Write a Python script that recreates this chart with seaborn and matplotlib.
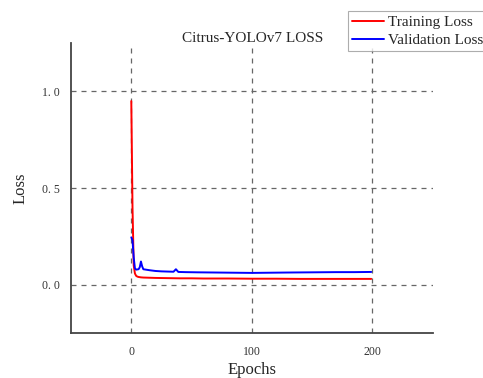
import numpy as np
import pandas as pd
import seaborn as sns
import matplotlib.pyplot as plt
from matplotlib.lines import Line2D

# epochs sampled densely at the start, sparser later
train_epochs = [0, 1, 2, 3, 4, 5, 6, 8, 10, 15, 20, 30, 40, 50, 60, 80, 100,
                120, 140, 160, 180, 199]
train_loss = [0.95, 0.40, 0.10, 0.058, 0.046, 0.042, 0.040, 0.038, 0.037, 0.036,
              0.035, 0.034, 0.033, 0.033, 0.032, 0.032, 0.031, 0.031, 0.030,
              0.030, 0.030, 0.030]

val_epochs = [0, 1, 2, 3, 4, 5, 6, 7, 8, 9, 10, 12, 15, 20, 25, 30, 35, 37, 39,
              45, 55, 70, 85, 100, 115, 130, 150, 170, 185, 199]
val_loss = [0.245, 0.23, 0.14, 0.085, 0.078, 0.079, 0.08, 0.09, 0.12, 0.095,
            0.08, 0.078, 0.075, 0.071, 0.069, 0.068, 0.067, 0.08, 0.066, 0.065,
            0.064, 0.063, 0.062, 0.061, 0.062, 0.063, 0.064, 0.065, 0.065, 0.066]

df = pd.concat([
    pd.DataFrame({"Epochs": train_epochs, "Loss": train_loss, "set": "Training Loss"}),
    pd.DataFrame({"Epochs": val_epochs, "Loss": val_loss, "set": "Validation Loss"}),
])

sns.set_style("white")
plt.rcParams["font.family"] = ["Liberation Serif", "DejaVu Serif"]

fig = plt.figure(figsize=(4.83, 3.78), dpi=100)
ax = fig.add_axes([0.147, 0.119, 0.749, 0.767])

sns.lineplot(data=df, x="Epochs", y="Loss", hue="set",
             palette={"Training Loss": "#ff0000", "Validation Loss": "#0000ff"},
             linewidth=1.4, ax=ax, legend=False)

ax.set_xlim(-50, 250)
ax.set_ylim(-0.25, 1.25)
ax.set_xticks([0, 100, 200])
ax.set_yticks([0.0, 0.5, 1.0])
ax.set_yticklabels(["0. 0", "0. 5", "1. 0"])
ax.tick_params(length=0, labelsize=8.5, colors="#333333")
ax.tick_params(axis="x", pad=9)
ax.tick_params(axis="y", pad=8)
ax.grid(True, linestyle=(0, (4, 4)), color="#666666", linewidth=0.9)

for s in ["top", "right"]:
    ax.spines[s].set_visible(False)
for s in ["left", "bottom"]:
    ax.spines[s].set_color("#444444")
    ax.spines[s].set_linewidth(1.3)

ax.set_xlabel("Epochs", fontsize=12, labelpad=3)
ax.set_ylabel("Loss", fontsize=12, labelpad=10)
fig.text(0.522, 0.888, "Citrus-YOLOv7 LOSS", ha="center", va="baseline", fontsize=11)

handles = [Line2D([], [], color="#ff0000", lw=1.4),
           Line2D([], [], color="#0000ff", lw=1.4)]
leg = fig.legend(handles, ["Training Loss", "Validation Loss"],
                 loc="upper left", bbox_to_anchor=(0.72, 0.97),
                 fontsize=11, frameon=True, fancybox=False,
                 handlelength=2.15, handletextpad=0.26, borderpad=0.25,
                 labelspacing=0.3, borderaxespad=0)
leg.get_frame().set_edgecolor("#999999")
leg.get_frame().set_linewidth(0.8)

fig.savefig("out.png", dpi=100)
